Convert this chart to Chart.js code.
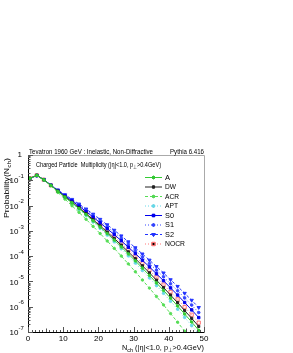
<!DOCTYPE html>
<html>
<head>
<meta charset="utf-8">
<script src="https://cdn.jsdelivr.net/npm/chart.js@4.4.1/dist/chart.umd.min.js"></script>
<style>
  body { margin: 0; background: #fff; }
  #box { width: 293px; height: 353px; }
</style>
</head>
<body>
<div id="box"><canvas id="grafico"></canvas></div>
<script>
// Multiplicidade de partículas carregadas (Nch) - pontos das curvas
const nch = [0.5, 2.5, 4.5, 6.5, 8.5, 10.5, 12.5, 14.5, 16.5, 18.5, 20.5, 22.5, 24.5,
             26.5, 28.5, 30.5, 32.5, 34.5, 36.5, 38.5, 40.5, 42.5, 44.5, 46.5, 48.5];

const probA = [1.18e-1, 1.56e-1, 1.04e-1, 6.28e-2, 3.64e-2, 2.16e-2, 1.28e-2, 7.59e-3, 4.40e-3,
               2.49e-3, 1.41e-3, 7.80e-4, 4.32e-4, 2.33e-4, 1.23e-4, 6.52e-5, 3.36e-5, 1.73e-5,
               8.75e-6, 4.42e-6, 2.18e-6, 1.07e-6, 5.18e-7, 2.49e-7, 1.17e-7];
const probDW = [1.20e-1, 1.58e-1, 1.05e-1, 6.31e-2, 3.72e-2, 2.24e-2, 1.35e-2, 8.13e-3, 4.79e-3,
                2.75e-3, 1.58e-3, 8.91e-4, 5.01e-4, 2.75e-4, 1.48e-4, 7.94e-5, 4.17e-5, 2.19e-5,
                1.12e-5, 5.75e-6, 2.88e-6, 1.45e-6, 7.08e-7, 3.47e-7, 1.66e-7];
const probACR = [1.22e-1, 1.55e-1, 1.02e-1, 6.15e-2, 3.29e-2, 1.80e-2, 9.82e-3, 5.37e-3, 2.87e-3,
                 1.50e-3, 7.82e-4, 3.99e-4, 2.03e-4, 1.01e-4, 4.94e-5, 2.41e-5, 1.14e-5, 5.44e-6,
                 2.54e-6, 1.18e-6, 5.36e-7, 2.44e-7, 1.08e-7, 4.8e-8, 2.1e-8];
const probAPT = [1.19e-1, 1.57e-1, 1.04e-1, 6.25e-2, 3.56e-2, 2.08e-2, 1.21e-2, 7.08e-3, 4.04e-3,
                 2.25e-3, 1.25e-3, 6.82e-4, 3.71e-4, 1.97e-4, 1.03e-4, 5.33e-5, 2.71e-5, 1.38e-5,
                 6.84e-6, 3.39e-6, 1.64e-6, 7.98e-7, 3.78e-7, 1.79e-7, 8.3e-8];
const probS0 = [1.16e-1, 1.55e-1, 1.06e-1, 6.37e-2, 3.90e-2, 2.44e-2, 1.53e-2, 9.55e-3, 5.83e-3,
                3.49e-3, 2.08e-3, 1.22e-3, 7.11e-4, 4.06e-4, 2.26e-4, 1.26e-4, 6.89e-5, 3.76e-5,
                2.00e-5, 1.07e-5, 5.55e-6, 2.89e-6, 1.47e-6, 7.48e-7, 3.72e-7];
const probS1 = [1.15e-1, 1.54e-1, 1.06e-1, 6.40e-2, 4.00e-2, 2.56e-2, 1.64e-2, 1.05e-2, 6.55e-3,
                4.00e-3, 2.44e-3, 1.46e-3, 8.69e-4, 5.07e-4, 2.89e-4, 1.65e-4, 9.18e-5, 5.12e-5,
                2.79e-5, 1.52e-5, 8.07e-6, 4.29e-6, 2.23e-6, 1.16e-6, 5.89e-7];
const probS2 = [1.14e-1, 1.53e-1, 1.07e-1, 6.44e-2, 4.11e-2, 2.69e-2, 1.76e-2, 1.15e-2, 7.33e-3,
                4.58e-3, 2.86e-3, 1.74e-3, 1.06e-3, 6.34e-4, 3.69e-4, 2.15e-4, 1.22e-4, 6.97e-5,
                3.88e-5, 2.16e-5, 1.17e-5, 6.37e-6, 3.39e-6, 1.80e-6, 9.33e-7];
const probNOCR = [1.21e-1, 1.58e-1, 1.05e-1, 6.34e-2, 3.79e-2, 2.32e-2, 1.42e-2, 8.71e-3, 5.21e-3,
                  3.05e-3, 1.78e-3, 1.02e-3, 5.82e-4, 3.25e-4, 1.77e-4, 9.68e-5, 5.18e-5, 2.76e-5,
                  1.44e-5, 7.50e-6, 3.82e-6, 1.95e-6, 9.68e-7, 4.82e-7, 2.34e-7];

// Rótulos dos eixos
const xTickLabels = [0, 10, 20, 30, 40, 50];
const yDecades = [0, -1, -2, -3, -4, -5, -6, -7];

const FONTE = '"Liberation Sans", Arial, sans-serif';

// Estilo de cada série (nome, dados, cor, traço, marcador)
const series = [
  { nome: 'A',    dados: probA,    cor: '#33cc33', traco: [],     ponto: 'circle',   raio: 1.3, cheio: true },
  { nome: 'DW',   dados: probDW,   cor: '#222222', traco: [],     ponto: 'rect',     raio: 1.5, cheio: true },
  { nome: 'ACR',  dados: probACR,  cor: '#55dd55', traco: [3, 2], ponto: 'circle',   raio: 1.2, cheio: true },
  { nome: 'APT',  dados: probAPT,  cor: '#66d8e8', traco: [1, 2], ponto: 'circle',   raio: 1.3, cheio: true },
  { nome: 'S0',   dados: probS0,   cor: '#0000ee', traco: [],     ponto: 'rect',     raio: 1.7, cheio: true },
  { nome: 'S1',   dados: probS1,   cor: '#3344ff', traco: [1, 2], ponto: 'circle',   raio: 1.3, cheio: true },
  { nome: 'S2',   dados: probS2,   cor: '#2233ff', traco: [3, 2], ponto: 'triangle', raio: 1.9, cheio: true, rot: 180 },
  { nome: 'NOCR', dados: probNOCR, cor: '#ff7777', traco: [1, 2], ponto: 'rect',     raio: 2.3, cheio: false }
];

const datasets = series.map(s => ({
  label: s.nome,
  data: nch.map((x, i) => ({ x: x, y: s.dados[i] })),
  borderColor: s.cor,
  borderWidth: 1,
  borderDash: s.traco,
  pointStyle: s.ponto,
  pointRadius: s.raio,
  pointRotation: s.rot || 0,
  pointBorderColor: s.cor,
  pointBackgroundColor: s.cheio ? s.cor : 'rgba(0,0,0,0)',
  pointBorderWidth: 1,
  fill: false,
  tension: 0
}));

// escreve um texto comprimido horizontalmente para caber na largura dada
function textoAjustado(ctx, partes, x, y, largura, alinhar) {
  let total = 0;
  partes.forEach(p => { ctx.font = p.f + 'px ' + FONTE; p.w = ctx.measureText(p.t).width; total += p.w; });
  const esc = largura / total;
  ctx.save();
  ctx.translate(alinhar === 'right' ? x - largura : x, y);
  ctx.scale(esc, 1);
  ctx.textAlign = 'left';
  ctx.textBaseline = 'middle';
  let cx = 0;
  partes.forEach(p => { ctx.font = p.f + 'px ' + FONTE; ctx.fillText(p.t, cx, p.dy || 0); cx += p.w; });
  ctx.restore();
}

// Desenha moldura, ticks para dentro, rótulos com expoentes, títulos e legenda
const decoracao = {
  id: 'decoracao',
  afterDraw(chart) {
    const ctx = chart.ctx;
    const a = chart.chartArea;
    const sx = chart.scales.x;
    const sy = chart.scales.y;
    ctx.save();

    // moldura
    ctx.lineWidth = 1;
    ctx.strokeStyle = '#aaaaaa';
    ctx.beginPath();
    ctx.moveTo(a.left, a.top + 0.5); ctx.lineTo(a.right + 0.5, a.top + 0.5);
    ctx.lineTo(a.right + 0.5, a.bottom);
    ctx.stroke();
    ctx.strokeStyle = '#000';
    ctx.beginPath();
    ctx.moveTo(a.left + 0.5, a.top); ctx.lineTo(a.left + 0.5, a.bottom + 0.5);
    ctx.lineTo(a.right + 0.5, a.bottom + 0.5);
    ctx.stroke();

    // ticks do eixo x
    ctx.strokeStyle = '#555';
    ctx.beginPath();
    for (let v = 0; v <= 50; v++) {
      const px = Math.round(sx.getPixelForValue(v)) + 0.5;
      const len = v % 10 === 0 ? 5 : (v % 5 === 0 ? 3.5 : 2);
      ctx.moveTo(px, a.bottom); ctx.lineTo(px, a.bottom - len);
    }
    // ticks do eixo y (log)
    yDecades.forEach(d => {
      const py = Math.round(sy.getPixelForValue(Math.pow(10, d))) + 0.5;
      ctx.moveTo(a.left, py); ctx.lineTo(a.left + 5, py);
      if (d > -7) {
        for (let m = 2; m <= 9; m++) {
          const pm = Math.round(sy.getPixelForValue(m * Math.pow(10, d - 1))) + 0.5;
          ctx.moveTo(a.left, pm); ctx.lineTo(a.left + 2.5, pm);
        }
      }
    });
    ctx.stroke();

    // rótulos do eixo y: 1, 10^-1 ... 10^-7
    ctx.fillStyle = '#000';
    ctx.textBaseline = 'middle';
    yDecades.forEach(d => {
      const py = sy.getPixelForValue(Math.pow(10, d));
      if (d === 0) {
        ctx.font = '8px ' + FONTE;
        ctx.textAlign = 'right';
        ctx.fillText('1', 22, py);
      } else {
        ctx.font = '8px ' + FONTE;
        ctx.textAlign = 'right';
        ctx.fillText('10', 18.5, py + 1);
        ctx.font = '6px ' + FONTE;
        ctx.textAlign = 'left';
        ctx.fillText(String(d), 18.5, py - 4);
      }
    });

    // título do eixo y (rotacionado, alinhado ao topo)
    ctx.save();
    ctx.translate(7, 218);
    ctx.rotate(-Math.PI / 2);
    textoAjustado(ctx, [
      { t: 'Probability(N', f: 8 }, { t: 'ch', f: 6, dy: 2 }, { t: ')', f: 8 }
    ], 0, 0, 60, 'left');
    ctx.restore();

    // título do eixo x (alinhado à direita)
    textoAjustado(ctx, [
      { t: 'N', f: 8 }, { t: 'ch', f: 6, dy: 2 },
      { t: ' (|\u03b7|<1.0, p', f: 8 }, { t: '\u22a5', f: 6, dy: 2 },
      { t: '>0.4GeV)', f: 8 }
    ], a.right, 348, 82, 'right');

    // textos do topo
    textoAjustado(ctx, [{ t: 'Tevatron 1960 GeV : Inelastic, Non-Diffractive', f: 7.5 }], 29, 152, 124, 'left');
    textoAjustado(ctx, [{ t: 'Pythia 6.416', f: 7.5 }], a.right, 152, 34, 'right');
    textoAjustado(ctx, [
      { t: 'Charged Particle  Multiplicity (|\u03b7|<1.0, p', f: 7.5 },
      { t: '\u22a5', f: 5.5, dy: 2 },
      { t: '>0.4GeV)', f: 7.5 }
    ], 36, 165, 125, 'left');

    // legenda
    series.forEach((s, i) => {
      const ly = 177 + i * 9.5;
      ctx.strokeStyle = s.cor;
      ctx.lineWidth = 1;
      ctx.setLineDash(s.traco);
      ctx.beginPath();
      ctx.moveTo(145, ly + 0.5); ctx.lineTo(162, ly + 0.5);
      ctx.stroke();
      ctx.setLineDash([]);
      Chart.helpers.drawPoint(ctx, {
        pointStyle: s.ponto, radius: s.raio, rotation: s.rot || 0, borderWidth: 1
      }, 153.5, ly + 0.5);
      ctx.fillStyle = s.cheio ? s.cor : 'rgba(0,0,0,0)';
      if (s.cheio) ctx.fill();
      ctx.stroke();
      ctx.fillStyle = '#000';
      const larg = { A: 5, DW: 11, ACR: 14, APT: 13, S0: 9, S1: 9, S2: 9, NOCR: 20 }[s.nome];
      textoAjustado(ctx, [{ t: s.nome, f: 7.5 }], 165, ly + 0.5, larg, 'left');
    });

    ctx.restore();
  }
};

const ctx = document.getElementById('grafico').getContext('2d');
const grafico = new Chart(ctx, {
  type: 'line',
  data: { datasets: datasets },
  options: {
    responsive: true,
    maintainAspectRatio: false,
    animation: false,
    layout: { padding: { top: 155, right: 89, left: 0, bottom: 0 } },
    plugins: { legend: { display: false }, tooltip: { enabled: false } },
    scales: {
      x: {
        type: 'linear', min: 0, max: 50,
        afterFit: s => { s.height = 21; },
        grid: { display: false, drawTicks: false },
        border: { display: false },
        afterBuildTicks: s => { s.ticks = xTickLabels.map(v => ({ value: v })); },
        ticks: { color: '#000', padding: 2, maxRotation: 0, font: { family: FONTE, size: 8 } }
      },
      y: {
        type: 'logarithmic', min: 1e-7, max: 1,
        afterFit: s => { s.width = 28; },
        grid: { display: false, drawTicks: false },
        border: { display: false },
        ticks: { display: false }
      }
    }
  },
  plugins: [decoracao]
});
</script>
</body>
</html>
